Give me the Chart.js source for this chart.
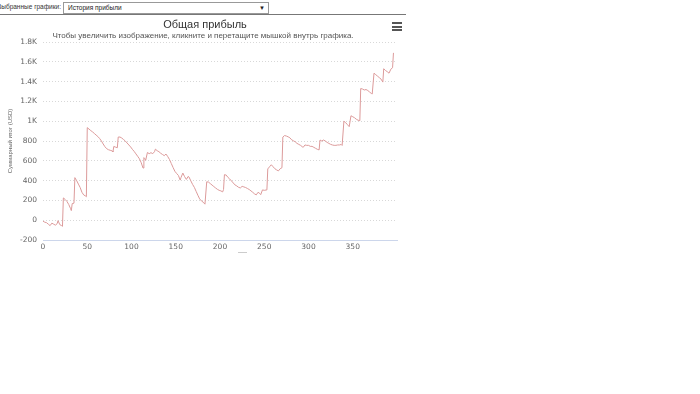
<!DOCTYPE html>
<html>
<head>
<meta charset="utf-8">
<script src="https://cdn.jsdelivr.net/npm/chart.js@4.4.1/dist/chart.umd.min.js"></script>
<style>
  html, body { margin: 0; padding: 0; width: 700px; height: 394px; background: #fff; overflow: hidden; font-family: "DejaVu Sans", sans-serif; }
  #topbar { position: absolute; left: 0; top: 0; width: 406px; height: 14px; border-bottom: 1px solid #777; }
  #lbl { position: absolute; left: 0; top: 3px; width: 61px; height: 10px; overflow: hidden; display: flex; justify-content: flex-end; font-family: "Liberation Sans", sans-serif; font-size: 6.5px; color: #333; white-space: nowrap; }
  #sel { position: absolute; left: 63px; top: 2px; width: 200px; height: 10px; border: 1px solid #999; font-family: "Liberation Sans", sans-serif; font-size: 6.5px; color: #222; line-height: 10px; padding-left: 4px; box-sizing: content-box; }
  #sel span.arrow { position: absolute; right: 3px; top: 0; font-size: 6px; }
  #wrap { position: absolute; left: 0; top: 0; width: 410px; height: 254px; }
  #title { position: absolute; left: 0; width: 410px; top: 18px; text-align: center; font-family: "Liberation Sans", sans-serif; font-size: 11px; color: #333; }
  #subtitle { position: absolute; left: 0; width: 406px; top: 31px; text-align: center; font-family: "Liberation Sans", sans-serif; font-size: 8px; color: #555; }
  #menu { position: absolute; left: 392px; top: 22px; width: 10px; }
  #menu div { height: 2px; background: #555; margin-bottom: 1.5px; }
  #legendstub { position: absolute; left: 238px; top: 252px; width: 9px; height: 1px; background: #ccc; }
</style>
</head>
<body>
<div id="topbar">
  <div id="lbl">Выбранные графики:</div>
  <div id="sel">История прибыли<span class="arrow">▼</span></div>
</div>
<div id="wrap"><canvas id="c" width="410" height="254"></canvas></div>
<div id="title">Общая прибыль</div>
<div id="subtitle">Чтобы увеличить изображение, кликните и перетащите мышкой внутрь графика.</div>
<div id="menu"><div></div><div></div><div></div></div>
<div id="legendstub"></div>
<script>
// Trade number (x) and cumulative profit in USD (y)
const tradeNo = [0,2,4,6,8,10,12,14,16,17,19,21,22,23,25,27,29,31,32,33,35,36,38,40,42,44,46,48,49,
  50,52,54,56,58,60,62,64,66,68,70,72,74,76,78,79,80,82,84,85,87,89,91,93,95,97,99,101,103,105,107,109,111,113,
  114,115,116,118,120,122,124,126,127,129,131,133,135,137,139,141,143,145,147,149,151,153,155,156,158,160,162,164,165,
  167,169,171,173,175,177,179,181,183,185,187,189,191,193,195,197,199,201,203,204,205,207,209,211,213,215,217,219,221,
  223,225,227,229,231,233,235,237,239,241,243,245,246,248,250,253,254,256,258,260,262,264,266,268,270,271,273,275,277,
  279,281,283,285,287,289,291,293,294,296,298,300,302,304,306,308,310,312,313,315,317,319,321,323,325,327,329,331,333,
  335,337,338,340,342,344,346,348,350,352,354,356,358,359,361,363,365,367,369,371,372,374,376,378,380,382,384,385,387,
  389,391,393,395,396];
const profit = [-10,-20,-25,-40,-55,-30,-40,-50,-35,-5,-45,-55,-62,225,210,190,160,120,97,168,172,430,400,365,330,282,255,245,237,
  935,920,905,892,876,860,845,825,800,770,742,722,712,706,700,690,745,738,732,840,840,830,815,800,780,760,740,716,695,670,645,620,580,527,
  632,622,605,684,672,682,672,692,718,702,692,676,664,652,668,642,612,572,532,494,472,452,405,432,476,440,412,442,436,
  398,362,332,292,252,215,195,182,162,388,385,370,355,340,326,312,302,296,286,310,460,456,432,416,396,376,356,346,332,
  326,342,336,330,320,310,296,282,266,256,282,270,258,306,302,306,518,540,560,540,520,508,498,520,530,840,855,850,842,
  832,812,802,792,776,766,756,742,736,760,756,756,746,746,736,726,716,710,810,800,810,800,786,776,766,760,756,756,760,
  760,765,755,1000,985,965,945,1055,1045,1035,1020,1010,1005,1330,1325,1315,1320,1310,1295,1280,1275,1485,1470,1455,1440,1425,1395,1530,1512,
  1500,1485,1525,1540,1690];
const yTickValues = [-200,0,200,400,600,800,1000,1200,1400,1600,1800];
const xTickValues = [0,50,100,150,200,250,300,350];
const yAxisTitle = "Суммарный итог (USD)";

const points = tradeNo.map((x, i) => ({ x: x, y: profit[i] }));

function fmtK(v) {
  if (v >= 1000) return (v / 1000).toString() + 'K';
  return v.toString();
}

new Chart(document.getElementById('c'), {
  type: 'line',
  data: { datasets: [{ data: points, borderColor: '#dc9a9a', borderWidth: 1, pointRadius: 0, tension: 0, fill: false }] },
  options: {
    responsive: false,
    animation: false,
    events: [],
    layout: { padding: { top: 42, right: 13, left: 0, bottom: 0 } },
    plugins: { legend: { display: false }, tooltip: { enabled: false }, title: { display: false } },
    scales: {
      x: {
        type: 'linear', min: 0, max: 400,
        afterBuildTicks: (s) => { s.ticks = xTickValues.map(v => ({ value: v })); },
        afterFit: (s) => { s.height = 14; },
        grid: { display: false, drawTicks: false },
        border: { display: true, color: '#ccd6eb', width: 1 },
        ticks: { color: '#666', font: { family: 'DejaVu Sans', size: 7.5 }, padding: 3, maxRotation: 0, autoSkip: false, callback: (v) => v }
      },
      y: {
        type: 'linear', min: -200, max: 1800,
        afterBuildTicks: (s) => { s.ticks = yTickValues.map(v => ({ value: v })); },
        afterFit: (s) => { s.width = 43; },
        grid: { color: '#d8d8d8', lineWidth: 1, drawTicks: false },
        border: { display: false, dash: [1, 2] },
        ticks: { color: '#666', font: { family: 'DejaVu Sans', size: 7.5 }, padding: 6, callback: (v) => fmtK(v) },
        title: { display: true, text: yAxisTitle, color: '#666', font: { family: 'Liberation Sans', size: 6 }, padding: { top: 7, bottom: 2 } }
      }
    }
  }
});
</script>
</body>
</html>
